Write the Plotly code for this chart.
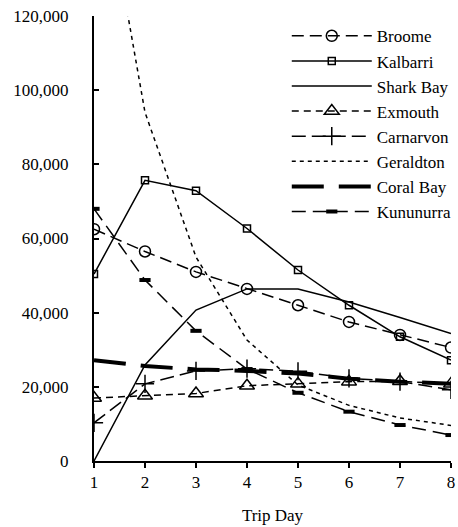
import plotly.graph_objects as go

days = [1, 2, 3, 4, 5, 6, 7, 8]
broome = [62500, 56500, 51000, 46400, 42000, 37500, 34000, 30600]
kalbarri = [50400, 75700, 72900, 62700, 51500, 42000, 33500, 27200]
shark_bay = [0, 25900, 40700, 46400, 46400, 42900, 38700, 34400]
exmouth = [17000, 17600, 18200, 20300, 20800, 21400, 21500, 20800]
carnarvon = [10300, 20800, 24300, 24900, 24200, 22300, 21400, 19200]
geraldton = [172000, 94000, 55000, 32600, 20500, 15000, 11600, 9600]
coral_bay = [27200, 25600, 24700, 24300, 23600, 22200, 21400, 20800]
kununurra = [68000, 48800, 35100, 24800, 18400, 13300, 9700, 7000]

y_ticks = [0, 20000, 40000, 60000, 80000, 100000, 120000]
x_ticks = days

FONT = "Liberation Serif"
K = "black"

series = [
    ("Broome", broome, dict(width=1.5, dash="12px,6px"),
     dict(symbol="circle-open", size=11, color=K, line=dict(width=1.5, color=K))),
    ("Kalbarri", kalbarri, dict(width=1.5),
     dict(symbol="square-open", size=7, color=K, line=dict(width=1.5, color=K))),
    ("Shark Bay", shark_bay, dict(width=1.5), None),
    ("Exmouth", exmouth, dict(width=1.5, dash="7px,5px"),
     dict(symbol="triangle-up-open", size=13, color=K, line=dict(width=1.5, color=K))),
    ("Carnarvon", carnarvon, dict(width=1.5, dash="14px,6px"),
     dict(symbol="cross-thin", size=13, color=K, line=dict(width=1.5, color=K))),
    ("Geraldton", geraldton, dict(width=1.5, dash="4px,4px"), None),
    ("Coral Bay", coral_bay, dict(width=4, dash="32px,15px"), None),
    ("Kununurra", kununurra, dict(width=1.5, dash="14px,7px"),
     dict(symbol="line-ew", size=8, color=K, line=dict(width=4, color=K))),
]

fig = go.Figure()
for name, vals, line, marker in series:
    line = dict(line, color=K)
    if marker is None:
        fig.add_trace(go.Scatter(x=days, y=vals, name=name, mode="lines", line=line))
    else:
        fig.add_trace(go.Scatter(x=days, y=vals, name=name, mode="lines+markers",
                                 line=line, marker=marker, cliponaxis=True))

fig.update_layout(
    width=458, height=527,
    margin=dict(l=94, r=1, t=16, b=66),
    paper_bgcolor="white", plot_bgcolor="white",
    font=dict(family=FONT, size=17, color=K),
    showlegend=True,
    legend=dict(x=0.54, y=0.995, xanchor="left", yanchor="top",
                bgcolor="rgba(0,0,0,0)", itemwidth=80,
                font=dict(family=FONT, size=17, color=K),
                tracegroupgap=0),
    xaxis=dict(range=[1, 8], tickvals=x_ticks, showgrid=False, zeroline=False,
               showline=True, linecolor=K, linewidth=2,
               ticks="outside", ticklen=5, tickwidth=2, tickcolor=K,
               tickfont=dict(family=FONT, size=17, color=K),
               title=dict(text="Trip Day", font=dict(family=FONT, size=17, color=K), standoff=18)),
    yaxis=dict(range=[0, 120000], tickvals=y_ticks, tickformat=",", showgrid=False,
               zeroline=False, showline=True, linecolor=K, linewidth=2,
               ticks="inside", ticklen=5, tickwidth=2, tickcolor=K,
               tickfont=dict(family=FONT, size=17, color=K),
               ticklabelstandoff=20),
)

fig.write_html("out.html")
